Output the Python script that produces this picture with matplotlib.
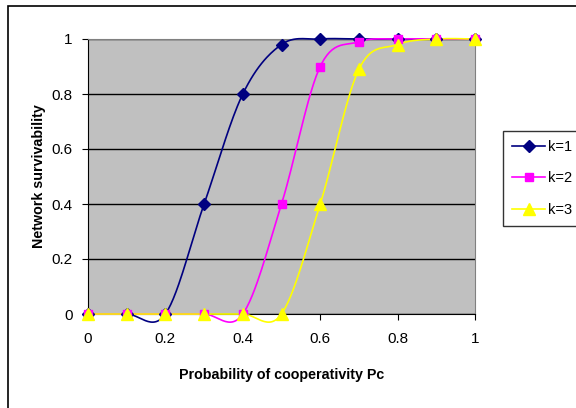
import numpy as np
import matplotlib
matplotlib.use("Agg")
import matplotlib.pyplot as plt
from matplotlib.patches import Rectangle

plt.rcParams['font.family'] = ['Liberation Sans', 'DejaVu Sans']

pc = [0, 0.1, 0.2, 0.3, 0.4, 0.5, 0.6, 0.7, 0.8, 0.9, 1.0]
k1 = [0, 0, 0, 0.4, 0.8, 0.98, 1, 1, 1, 1, 1]
k2 = [0, 0, 0, 0, 0, 0.4, 0.9, 0.99, 1, 1, 1]
k3 = [0, 0, 0, 0, 0, 0, 0.4, 0.89, 0.98, 1, 1]
labels = ['k=1', 'k=2', 'k=3']
colors = ['#000080', '#FF00FF', '#FFFF00']
markers = ['D', 's', '^']
msizes = [6.5, 6, 8]


def smooth(x, y, n=30):
    x = np.asarray(x, float)
    y = np.asarray(y, float)
    P = np.column_stack([x, y])
    out = []
    m = len(P)
    for i in range(m - 1):
        p0 = P[i - 1] if i > 0 else P[i]
        p1 = P[i]
        p2 = P[i + 1]
        p3 = P[i + 2] if i + 2 < m else P[i + 1]
        c1 = p1 + (p2 - p0) / 6.0
        c2 = p2 - (p3 - p1) / 6.0
        t = np.linspace(0, 1, n)[:, None]
        seg = ((1 - t) ** 3) * p1 + 3 * ((1 - t) ** 2) * t * c1 + 3 * (1 - t) * t ** 2 * c2 + t ** 3 * p2
        out.append(seg if i == 0 else seg[1:])
    s = np.vstack(out)
    return s[:, 0], s[:, 1]


fig = plt.figure(figsize=(5.76, 4.08), dpi=100)
W, H = 576, 408
ax = fig.add_axes([88 / W, 1 - 314 / H, (475 - 88) / W, (314 - 39) / H])
ax.set_facecolor('#C0C0C0')

fig.patches.append(Rectangle((8 / W, -0.1), 1.2, 1 - 6 / H + 0.1, transform=fig.transFigure,
                             fill=False, edgecolor='black', linewidth=1.2))

for ys, lab, c, mk, ms in zip([k1, k2, k3], labels, colors, markers, msizes):
    sx, sy = smooth(pc, ys)
    ax.plot(sx, sy, color=c, linewidth=1.2, clip_on=False, zorder=3)
    ax.plot(pc, ys, linestyle='none', marker=mk, markersize=ms, color=c, clip_on=False, zorder=4)
    ax.plot([], [], color=c, marker=mk, markersize=ms, linewidth=1.2, label=lab)

ax.set_xlim(0, 1)
ax.set_ylim(0, 1)
ax.set_xticks(np.arange(0, 1.01, 0.2))
ax.set_yticks(np.arange(0, 1.01, 0.2))
ax.set_xticklabels(['0', '0.2', '0.4', '0.6', '0.8', '1'])
ax.set_yticklabels(['0', '0.2', '0.4', '0.6', '0.8', '1'])
ax.grid(axis='y', color='black', linewidth=1.0)
ax.set_axisbelow(True)
for s in ['top', 'right']:
    ax.spines[s].set_color('#808080')
for s in ['left', 'bottom']:
    ax.spines[s].set_color('black')
ax.tick_params(axis='x', direction='out', length=4, labelsize=11, colors='black', pad=9)
ax.tick_params(axis='y', direction='out', length=4, labelsize=11, colors='black', pad=7)
ax.set_xlabel('Probability of cooperativity Pc', fontsize=10.3, fontweight='bold', labelpad=16)
ax.set_ylabel('Network survivability', fontsize=10.3, fontweight='bold', labelpad=4)

leg = fig.legend(loc='upper left', bbox_to_anchor=(503 / W, 1 - 131 / H), frameon=True,
                 fancybox=False, edgecolor='black', fontsize=10.5, handlelength=2.3,
                 borderpad=0.6, labelspacing=1.2, handletextpad=0.2, borderaxespad=0)
leg.get_frame().set_linewidth(1.0)

fig.savefig('out.png', dpi=100)
